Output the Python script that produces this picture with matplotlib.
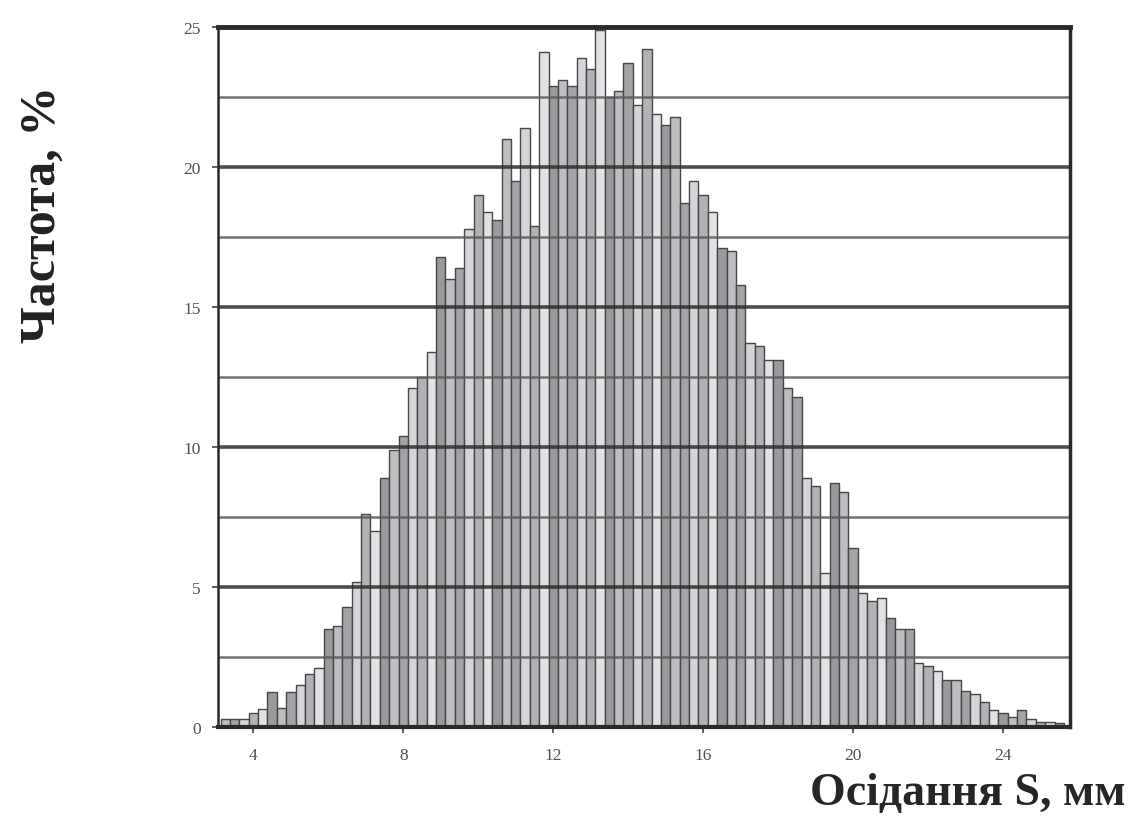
import numpy as np
import matplotlib.pyplot as plt

# histogram of settlement values, bin width 0.25 mm
s_start = 3.125
bin_width = 0.25
freq = [
    0.3, 0.3, 0.3, 0.5, 0.65, 1.25, 0.7, 1.25, 1.5, 1.9,
    2.1, 3.5, 3.6, 4.3, 5.2, 7.6, 7.0, 8.9, 9.9, 10.4,
    12.1, 12.5, 13.4, 16.8, 16.0, 16.4, 17.8, 19.0, 18.4, 18.1,
    21.0, 19.5, 21.4, 17.9, 24.1, 22.9, 23.1, 22.9, 23.9, 23.5,
    24.9, 22.5, 22.7, 23.7, 22.2, 24.2, 21.9, 21.5, 21.8, 18.7,
    19.5, 19.0, 18.4, 17.1, 17.0, 15.8, 13.7, 13.6, 13.1, 13.1,
    12.1, 11.8, 8.9, 8.6, 5.5, 8.7, 8.4, 6.4, 4.8, 4.5,
    4.6, 3.9, 3.5, 3.5, 2.3, 2.2, 2.0, 1.7, 1.7, 1.3,
    1.2, 0.9, 0.6, 0.5, 0.35, 0.6, 0.3, 0.2, 0.2, 0.15,
]
x_ticks = [4, 8, 12, 16, 20, 24]
y_ticks = [0, 5, 10, 15, 20, 25]

edges = s_start + bin_width * np.arange(len(freq))
shades = ['#bdbdc2', '#a4a4a8', '#d4d4d9', '#b2b2b6', '#e2e2e6', '#9a9a9e']
colors = [shades[i % len(shades)] for i in range(len(freq))]

fig = plt.figure(figsize=(11.34, 8.2), dpi=100)
ax = fig.add_axes([0.192, 0.112, 0.752, 0.854])

ax.bar(edges, freq, width=bin_width, align='edge', color=colors,
       edgecolor='#474747', linewidth=1.0, zorder=2)

# horizontal grid drawn over the bars
for y in np.arange(2.5, 25, 2.5):
    major = (y % 5 == 0)
    ax.axhline(y, color='#2e2e2e' if major else '#5a5a5a',
               lw=2.6 if major else 1.8, alpha=0.85, zorder=3)

ax.set_xlim(3.05, 25.8)
ax.set_ylim(0, 25)
ax.set_xticks(x_ticks)
ax.set_yticks(y_ticks)
ax.tick_params(axis='both', labelsize=12.5, labelcolor='#505050',
               length=4, width=1.2, color='#444444')
ax.tick_params(axis='x', pad=10)
ax.tick_params(axis='y', pad=8)
for lab in ax.get_xticklabels() + ax.get_yticklabels():
    lab.set_family('Liberation Serif')

for side, lw in [('top', 3.5), ('bottom', 3.0), ('left', 1.8), ('right', 2.5)]:
    ax.spines[side].set_linewidth(lw)
    ax.spines[side].set_color('#2a2a2a')
    ax.spines[side].set_zorder(4)

fig.text(0.038, 0.738, 'Частота, %', rotation=90, ha='center', va='center',
         family='Liberation Serif', fontweight='bold', fontsize=36, color='#222222')
fig.text(0.853, 0.032, 'Осідання S, мм', ha='center', va='center',
         family='Liberation Serif', fontweight='bold', fontsize=33, color='#262626')

fig.savefig('out.png', dpi=100)
